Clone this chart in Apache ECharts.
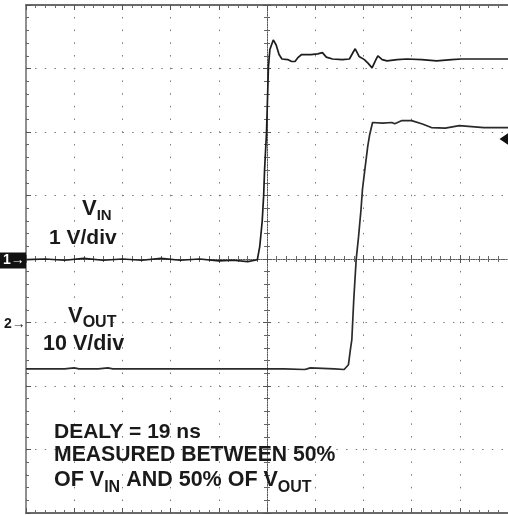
<!DOCTYPE html>
<html>
<head>
<meta charset="utf-8">
<script src="https://cdn.jsdelivr.net/npm/echarts@6/dist/echarts.min.js"></script>
<style>
html,body{margin:0;padding:0;background:#fff;}
#chart{width:508px;height:515px;}
</style>
</head>
<body>
<div id="chart"></div>
<script>
// Time axis: ns relative to screen centre (10 ns/div)
var timeTicks = [-50, -40, -30, -20, -10, 0, 10, 20, 30, 40, 50];
// VIN channel (1 V/div), [time ns, volts]
var vinTime = [-50,-46,-42,-38,-34,-30,-26,-22,-18,-14,-10,-7,-4,-2.5,-2,
  -1.5,-1.0,-0.7,-0.5,-0.1,0.1,0.3,0.6,1.3,1.9,2.5,3.1,4.3,5.1,5.8,6.4,7.2,9.1,10.5,11.5,12.3,13.6,15.6,17.1,17.9,18.3,19.1,20.2,21.0,21.8,22.6,23.0,23.9,24.9,27,29,32.1,35.2,38.3,40.3,43.4,47.5,50];
var vinVolts = [-0.01,0.0,-0.02,0.01,-0.02,0.0,-0.02,0.01,-0.02,0.0,-0.03,-0.02,-0.04,-0.02,-0.01,
  0.2,0.59,0.99,1.41,1.99,2.51,3.03,3.30,3.45,3.37,3.22,3.15,3.14,3.11,3.11,3.17,3.22,3.22,3.23,3.25,3.18,3.15,3.14,3.15,3.26,3.31,3.19,3.14,3.08,3.01,3.14,3.20,3.14,3.12,3.14,3.15,3.14,3.12,3.14,3.15,3.15,3.15,3.15];
// VOUT channel (10 V/div), [time ns, volts]
var voutTime = [-50,-42,-40,-39,-35,-33,-32,-25,-17.3,-17,-16.7,-12.6,-12.3,-12,-10,-2,-1.9,-1.8,3.6,3.7,3.8,7.8,8.0,8.3,9,9.3,14,16,
  16.9,17.3,17.6,18.0,18.5,19.0,19.5,19.8,20.3,20.9,21.3,21.9,24,25.9,26.5,28,30,32.1,34.1,37,39.9,40.2,45,50];
var voutVolts = [-7.3,-7.3,-7.15,-7.3,-7.3,-7.15,-7.3,-7.3,-7.3,-7.15,-7.3,-7.3,-7.15,-7.3,-7.3,-7.3,-7.15,-7.3,-7.3,-7.15,-7.3,-7.4,-7.5,-7.3,-7.15,-7.3,-7.3,-7.4,
  -6.65,-4.28,-2.71,3.59,9.89,13.56,17.76,20.91,24.06,27.73,29.57,31.5,31.4,31.5,31.3,31.8,31.8,31.3,30.7,30.6,31.0,30.7,30.7,30.7];
// Trigger level marker (VOUT volts)
var triggerLevel = [28.9];
// Axis ranges
var vinRange = [-4, 4];     // 1 V/div, 8 div
var voutRange = [-30, 50];  // 10 V/div, ground 1 div below centre

function zip(a, b) { var r = []; for (var i = 0; i < a.length; i++) r.push([a[i], b[i]]); return r; }

var FONT = '"Liberation Sans", Arial, Helvetica, sans-serif';
var ctx = document.createElement('canvas').getContext('2d');
function w(text, size) { ctx.font = 'bold ' + size + 'px ' + FONT; return ctx.measureText(text).width; }
var ink = '#1a1a1a';
function txt(text, x, cy, size, color) {
  return { type: 'text', x: x, y: cy, z: 100,
    style: { text: text, fontSize: size, fontWeight: 'bold', fontFamily: FONT, fill: color || ink, align: 'left', verticalAlign: 'middle' } };
}
function seq(pieces, x, cy, big, small, subShift) {
  var out = [];
  pieces.forEach(function (p) {
    var size = p.sub ? small : big;
    out.push(txt(p.t, x, p.sub ? cy + subShift : cy, size));
    x += w(p.t, size);
  });
  return out;
}

var graphics = [];
graphics = graphics.concat(seq([{t:'V'},{t:'IN',sub:true}], 82, 209, 22, 15, 6.5));
graphics.push(txt('1 V/div', 49, 238, 21));
graphics = graphics.concat(seq([{t:'V'},{t:'OUT',sub:true}], 68, 316, 22, 16, 7));
graphics.push(txt('10 V/div', 43, 344, 21.5));
graphics.push(txt('DEALY = 19 ns', 54, 432.5, 21));
graphics.push(txt('MEASURED BETWEEN 50%', 54, 455.5, 21.2));
graphics = graphics.concat(seq([{t:'OF V'},{t:'IN',sub:true},{t:' AND 50% OF V'},{t:'OUT',sub:true}], 54, 480.5, 21.5, 16, 7));
// channel markers
graphics.push({ type: 'rect', shape: { x: 0, y: 252.5, width: 26, height: 16 }, style: { fill: '#111' }, z: 100 });
graphics.push(txt('1\u2192', 3, 260.5, 14, '#fff'));
graphics.push(txt('2\u2192', 4, 324, 14, ink));

var gridCol = '#7a7a7a';
var frameCol = '#6a6a6a';
function xAx(pos, onZero, extra) {
  return Object.assign({
    type: 'value', min: timeTicks[0], max: timeTicks[timeTicks.length - 1], interval: 10,
    position: pos,
    axisLine: { show: true, onZero: onZero, onZeroAxisIndex: 0, lineStyle: { color: onZero ? '#555' : frameCol, width: onZero ? 1 : 2, type: onZero ? [1, 1.5] : 'solid' } },
    axisTick: { show: true, inside: true, length: onZero ? 4 : 5, lineStyle: { color: '#555', width: 1 } },
    minorTick: { show: true, splitNumber: 5, length: 3, lineStyle: { color: '#666', width: 1 } },
    axisLabel: { show: false },
    splitLine: { show: false }
  }, extra || {});
}
function yAx(pos, onZero, extra) {
  return Object.assign({
    type: 'value', min: vinRange[0], max: vinRange[1], interval: 1,
    position: pos,
    axisLine: { show: true, onZero: onZero, onZeroAxisIndex: 0, lineStyle: { color: onZero ? '#555' : frameCol, width: onZero ? 1 : 1.5, type: onZero ? [1, 1.5] : 'solid' } },
    axisTick: { show: true, inside: true, length: onZero ? 4 : 5, lineStyle: { color: '#555', width: 1 } },
    minorTick: { show: true, splitNumber: 5, length: 3, lineStyle: { color: '#666', width: 1 } },
    axisLabel: { show: false },
    splitLine: { show: false }
  }, extra || {});
}

var option = {
  animation: false,
  backgroundColor: '#fff',
  grid: { left: 26, top: 5, width: 486, height: 508, containLabel: false },
  xAxis: [
    xAx('bottom', true),
    xAx('top', true),
    xAx('bottom', false, { splitLine: { show: true, lineStyle: { color: gridCol, width: 1, type: [1.5, 11.2], dashOffset: 0.75 } } }),
    xAx('top', false)
  ],
  yAxis: [
    yAx('left', true),
    { type: 'value', min: voutRange[0], max: voutRange[1], interval: 10, show: false },
    yAx('right', true),
    yAx('left', false, { splitLine: { show: true, lineStyle: { color: gridCol, width: 1, type: [1.5, 8.22], dashOffset: 0.75 } } })
  ],
  series: [
    { name: 'VIN', type: 'line', xAxisIndex: 0, yAxisIndex: 0, data: zip(vinTime, vinVolts),
      showSymbol: false, smooth: false, lineStyle: { color: '#1c1c1c', width: 1.7 }, z: 10 },
    { name: 'VOUT', type: 'line', xAxisIndex: 0, yAxisIndex: 1, data: zip(voutTime, voutVolts),
      showSymbol: false, smooth: false, lineStyle: { color: '#2a2a2a', width: 1.7 }, z: 10,
      markPoint: { silent: true, label: { show: false },
        data: triggerLevel.map(function (v) { return { coord: [timeTicks[timeTicks.length - 1], v], symbol: 'triangle', symbolRotate: 90, symbolSize: [12, 9], symbolOffset: [-4, 0], itemStyle: { color: '#111' } }; }) } }
  ],
  graphic: graphics
};
var chart = echarts.init(document.getElementById('chart'), null, { renderer: 'canvas' });
chart.setOption(option);
</script>
</body>
</html>
